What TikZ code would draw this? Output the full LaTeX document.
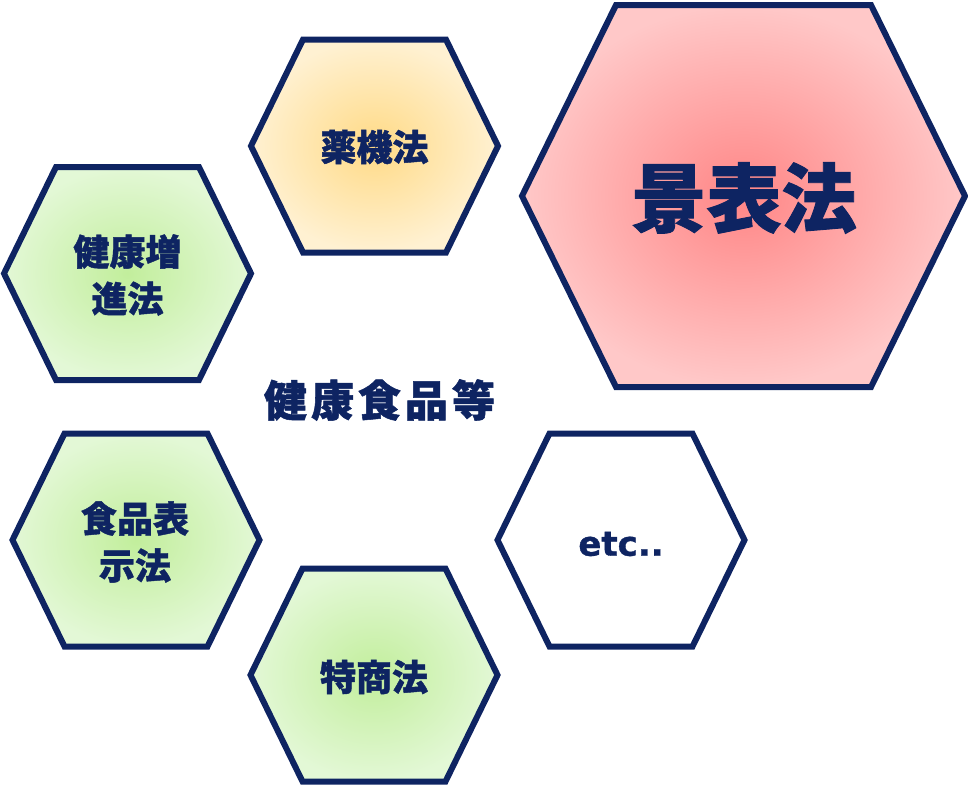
\documentclass[tikz,border=0pt]{standalone}
\usepackage{fontspec}
\newfontfamily\jpfont{Noto Sans CJK JP}[BoldFeatures={FakeBold=1.2}]
\newfontfamily\etcfont{DejaVu Sans}[BoldFeatures={FakeBold=1}]
\definecolor{navy}{HTML}{0E2462}
\definecolor{pinkin}{HTML}{FF8686}
\definecolor{pinkout}{HTML}{FFC8C8}
\definecolor{yelin}{HTML}{FFDA86}
\definecolor{yelout}{HTML}{FFF1D2}
\definecolor{grnin}{HTML}{C2EE9C}
\definecolor{grnout}{HTML}{E3F8D6}
\pgfdeclareradialshading{pinkshade}{\pgfpoint{0bp}{0bp}}{color(0bp)=(pinkin); color(25bp)=(pinkout); color(50bp)=(pinkout)}
\pgfdeclareradialshading{yelshade}{\pgfpoint{0bp}{0bp}}{color(0bp)=(yelin); color(25bp)=(yelout); color(50bp)=(yelout)}
\pgfdeclareradialshading{grnshade}{\pgfpoint{0bp}{0bp}}{color(0bp)=(grnin); color(25bp)=(grnout); color(50bp)=(grnout)}
% hexagon: center x, center y, half width, top half width, half height
\newcommand\hexshape[6]{%
  \path[hexline,#6] (#1-#3,#2) -- (#1-#4,#2-#5) -- (#1+#4,#2-#5) -- (#1+#3,#2) -- (#1+#4,#2+#5) -- (#1-#4,#2+#5) -- cycle;}
\tikzset{
  hexline/.style={draw=navy, line width=6pt, line join=miter},
  lbl/.style={text=navy, font=\jpfont\bfseries\fontsize{36}{47}\selectfont, align=center, inner sep=0pt},
}
\begin{document}
\begin{tikzpicture}[x=1pt,y=-1pt]
\useasboundingbox (0,0) rectangle (968,788);
\hexshape{374.5}{146}{123.5}{71.5}{106.5}{shading=yelshade}
\hexshape{127.5}{273.5}{123.5}{71.5}{106.5}{shading=grnshade}
\hexshape{136}{540}{123.5}{71.5}{106.5}{shading=grnshade}
\hexshape{374}{675}{123.5}{71.5}{106.5}{shading=grnshade}
\hexshape{621}{540}{123.5}{71.5}{106.5}{fill=white}
\hexshape{743.5}{196}{221.5}{127.5}{191}{shading=pinkshade}
\node[lbl] (yakki) at (374.5,147) {薬機法};
\node[lbl] (kenko) at (127.5,275) {健康増\\進法};
\node[lbl] (shoku) at (135,542) {食品表\\示法};
\node[lbl] (tokusho) at (374,677) {特商法};
\node[lbl, font=\jpfont\bfseries\fontsize{75}{80}\selectfont] (keihyo) at (744,198) {景表法};
\node[lbl, font=\jpfont\bfseries\fontsize{43}{48}\selectfont] (title) at (379.5,400) {健\hspace{4pt}康\hspace{4pt}食\hspace{4pt}品\hspace{4pt}等};
\node[text=navy, font=\etcfont\bfseries\fontsize{34}{40}\selectfont, inner sep=0pt] (etc) at (621,544) {etc..};
\end{tikzpicture}
\end{document}
